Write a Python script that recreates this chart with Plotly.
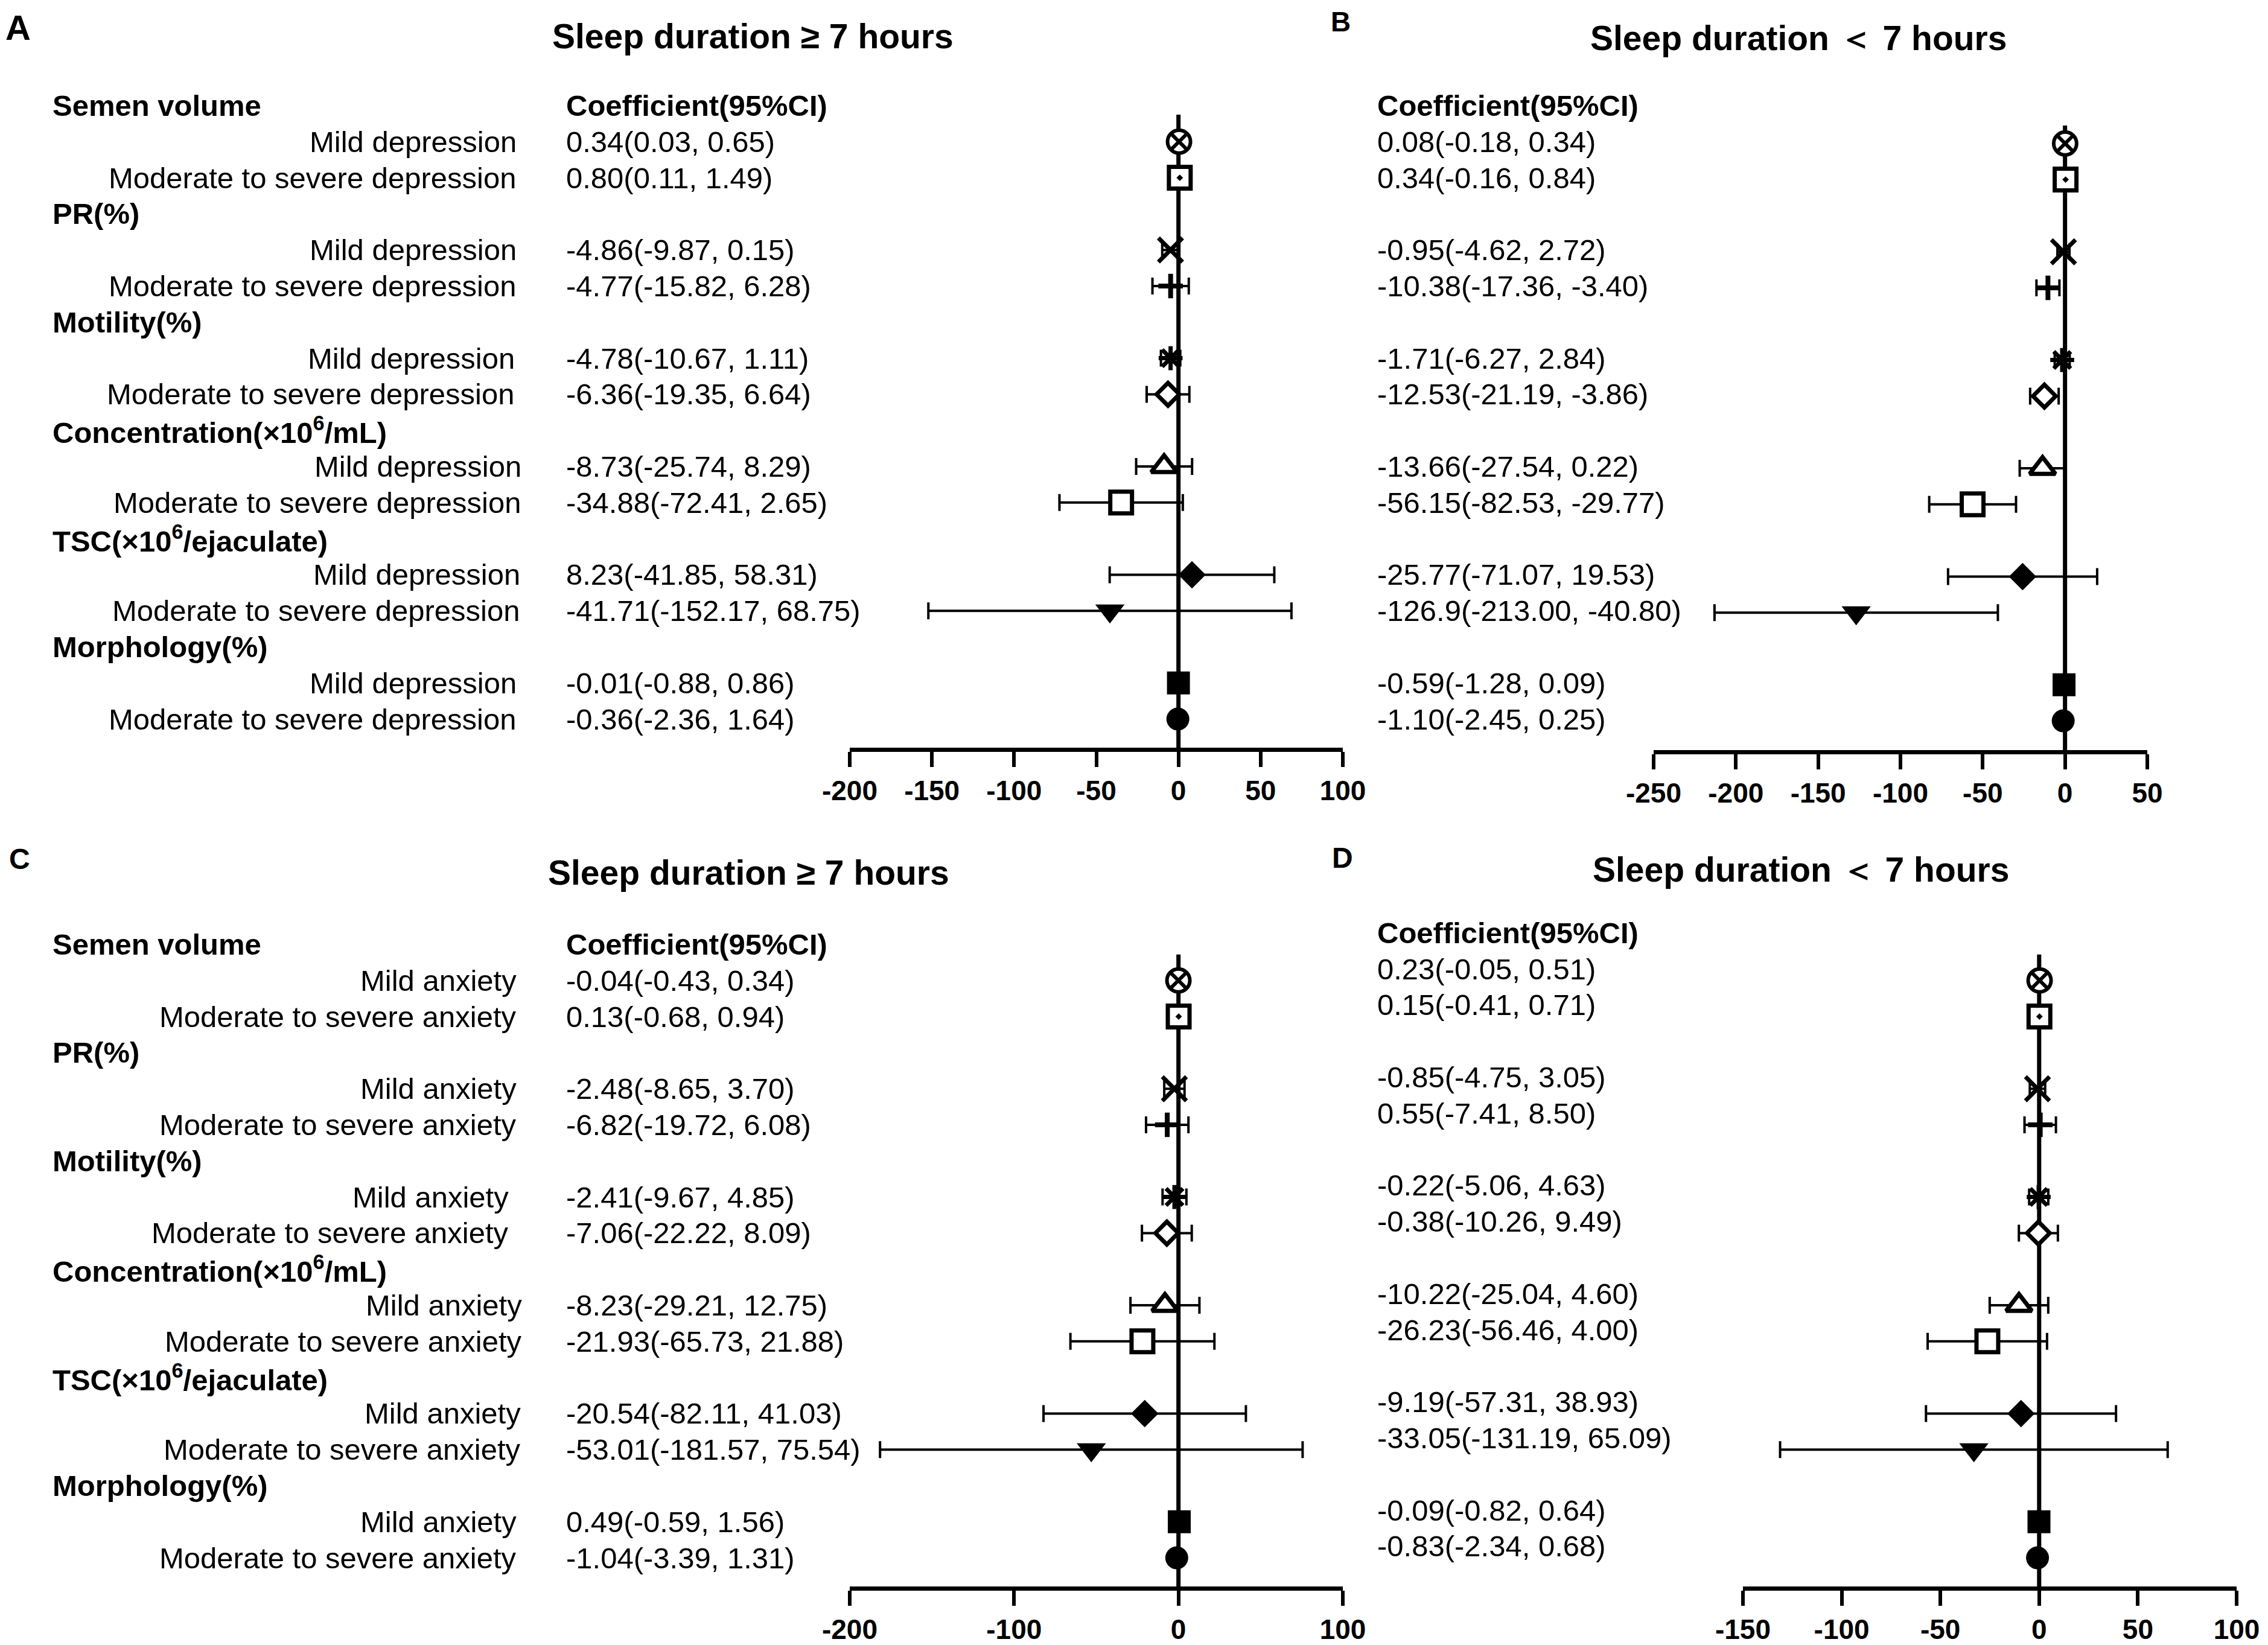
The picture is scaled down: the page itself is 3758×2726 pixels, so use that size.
import plotly.graph_objects as go

W, H = 3758, 2726
FONT = "Liberation Sans, Arial, sans-serif"

# ---- data -------------------------------------------------------------
groups = ["Semen volume", "PR(%)", "Motility(%)",
          "Concentration(×10<sup>6</sup>/mL)", "TSC(×10<sup>6</sup>/ejaculate)",
          "Morphology(%)"]
dep_levels = ["Mild depression", "Moderate to severe depression"]
anx_levels = ["Mild anxiety", "Moderate to severe anxiety"]

# A: depression, sleep >= 7 h
a_coef = [0.34, 0.80, -4.86, -4.77, -4.78, -6.36, -8.73, -34.88, 8.23, -41.71, -0.01, -0.36]
a_low = [0.03, 0.11, -9.87, -15.82, -10.67, -19.35, -25.74, -72.41, -41.85, -152.17, -0.88, -2.36]
a_high = [0.65, 1.49, 0.15, 6.28, 1.11, 6.64, 8.29, 2.65, 58.31, 68.75, 0.86, 1.64]
a_text = ["0.34(0.03, 0.65)", "0.80(0.11, 1.49)", "-4.86(-9.87, 0.15)", "-4.77(-15.82, 6.28)",
          "-4.78(-10.67, 1.11)", "-6.36(-19.35, 6.64)", "-8.73(-25.74, 8.29)",
          "-34.88(-72.41, 2.65)", "8.23(-41.85, 58.31)", "-41.71(-152.17, 68.75)",
          "-0.01(-0.88, 0.86)", "-0.36(-2.36, 1.64)"]

# B: depression, sleep < 7 h
b_coef = [0.08, 0.34, -0.95, -10.38, -1.71, -12.53, -13.66, -56.15, -25.77, -126.9, -0.59, -1.10]
b_low = [-0.18, -0.16, -4.62, -17.36, -6.27, -21.19, -27.54, -82.53, -71.07, -213.00, -1.28, -2.45]
b_high = [0.34, 0.84, 2.72, -3.40, 2.84, -3.86, 0.22, -29.77, 19.53, -40.80, 0.09, 0.25]
b_text = ["0.08(-0.18, 0.34)", "0.34(-0.16, 0.84)", "-0.95(-4.62, 2.72)", "-10.38(-17.36, -3.40)",
          "-1.71(-6.27, 2.84)", "-12.53(-21.19, -3.86)", "-13.66(-27.54, 0.22)",
          "-56.15(-82.53, -29.77)", "-25.77(-71.07, 19.53)", "-126.9(-213.00, -40.80)",
          "-0.59(-1.28, 0.09)", "-1.10(-2.45, 0.25)"]

# C: anxiety, sleep >= 7 h
c_coef = [-0.04, 0.13, -2.48, -6.82, -2.41, -7.06, -8.23, -21.93, -20.54, -53.01, 0.49, -1.04]
c_low = [-0.43, -0.68, -8.65, -19.72, -9.67, -22.22, -29.21, -65.73, -82.11, -181.57, -0.59, -3.39]
c_high = [0.34, 0.94, 3.70, 6.08, 4.85, 8.09, 12.75, 21.88, 41.03, 75.54, 1.56, 1.31]
c_text = ["-0.04(-0.43, 0.34)", "0.13(-0.68, 0.94)", "-2.48(-8.65, 3.70)", "-6.82(-19.72, 6.08)",
          "-2.41(-9.67, 4.85)", "-7.06(-22.22, 8.09)", "-8.23(-29.21, 12.75)",
          "-21.93(-65.73, 21.88)", "-20.54(-82.11, 41.03)", "-53.01(-181.57, 75.54)",
          "0.49(-0.59, 1.56)", "-1.04(-3.39, 1.31)"]

# D: anxiety, sleep < 7 h
d_coef = [0.23, 0.15, -0.85, 0.55, -0.22, -0.38, -10.22, -26.23, -9.19, -33.05, -0.09, -0.83]
d_low = [-0.05, -0.41, -4.75, -7.41, -5.06, -10.26, -25.04, -56.46, -57.31, -131.19, -0.82, -2.34]
d_high = [0.51, 0.71, 3.05, 8.50, 4.63, 9.49, 4.60, 4.00, 38.93, 65.09, 0.64, 0.68]
d_text = ["0.23(-0.05, 0.51)", "0.15(-0.41, 0.71)", "-0.85(-4.75, 3.05)", "0.55(-7.41, 8.50)",
          "-0.22(-5.06, 4.63)", "-0.38(-10.26, 9.49)", "-10.22(-25.04, 4.60)",
          "-26.23(-56.46, 4.00)", "-9.19(-57.31, 38.93)", "-33.05(-131.19, 65.09)",
          "-0.09(-0.82, 0.64)", "-0.83(-2.34, 0.68)"]

title_long = "Sleep duration ≥ 7 hours"
title_short = "Sleep duration ＜ 7 hours"

ticks_a = [-200, -150, -100, -50, 0, 50, 100]
ticks_b = [-250, -200, -150, -100, -50, 0, 50]
ticks_c = [-200, -100, 0, 100]
ticks_d = [-150, -100, -50, 0, 50, 100]

# ---- styling ----------------------------------------------------------
symbols = ["circle-x", "square-dot", "x-thin", "cross-thin", "asterisk", "diamond",
           "triangle-up", "square", "diamond", "triangle-down", "square", "circle"]
fills = ["white"] * 8 + ["black"] * 4
sizes = [38, 36, 40, 29, 33, 29, 37, 36, 35, 42, 38, 38]
lwidths = [6, 7, 7, 8, 7, 7, 7, 7, 0, 0, 0, 0]

STEP = 59.8                     # px per row
data_rows = [1, 2, 4, 5, 7, 8, 10, 11, 13, 14, 16, 17]
group_rows = [0, 3, 6, 9, 12, 15]

panels = [
    dict(tag="A", coef=a_coef, low=a_low, high=a_high, text=a_text, levels=dep_levels,
         title=title_long, xr=(-200, 100), ticks=ticks_a, xpx=(1408, 2225), head=175, axis=1239,
         line_top=0.25, text_x=936, text_dy=0, label_px=(7, 46, 58), title_px=(1247, 60),
         level_shift=[0, 0, 0, 0, -3, -3, 8, 8, 6, 6, 0, 0]),
    dict(tag="B", coef=b_coef, low=b_low, high=b_high, text=b_text, levels=None,
         title=title_short, xr=(-250, 50), ticks=ticks_b, xpx=(2740, 3558), head=178, axis=1243,
         line_top=0.5, text_x=2280, text_dy=-0.05, label_px=(2203, 36, 46), title_px=(2980, 63)),
    dict(tag="C", coef=c_coef, low=c_low, high=c_high, text=c_text, levels=anx_levels,
         title=title_long, xr=(-200, 100), ticks=ticks_c, xpx=(1408, 2225), head=1565, axis=2629,
         line_top=0.28, text_x=936, text_dy=0, label_px=(13, 1423, 48), title_px=(1240, 1446),
         level_shift=[0, 0, 0, 0, -13, -13, 9, 9, 7, 7, 0, 0]),
    dict(tag="D", coef=d_coef, low=d_low, high=d_high, text=d_text, levels=None,
         title=title_short, xr=(-150, 100), ticks=ticks_d, xpx=(2888, 3706), head=1565, axis=2629,
         line_top=0.28, text_x=2280, text_dy=-0.32, label_px=(2205, 1421, 48), title_px=(2984, 1441)),
]

fig = go.Figure()
annotations = []
layout_axes = {}

for i, p in enumerate(panels, start=1):
    sfx = str(i) if i > 1 else ""
    xa, ya = "x" + sfx, "y" + sfx
    r_top = -0.45
    r_bot = (p["axis"] - p["head"]) / STEP
    top_px = p["head"] + r_top * STEP

    layout_axes["xaxis" + sfx] = dict(
        domain=[p["xpx"][0] / W, p["xpx"][1] / W], range=list(p["xr"]), anchor=ya,
        tickmode="array", tickvals=p["ticks"], ticktext=[str(t) for t in p["ticks"]],
        showline=True, linecolor="black", linewidth=7, ticks="outside", ticklen=25,
        tickwidth=6, tickcolor="black", showgrid=False, zeroline=False, automargin=False,
        tickfont=dict(family=FONT, size=46, color="black", weight="bold"),
    )
    layout_axes["yaxis" + sfx] = dict(
        domain=[1 - p["axis"] / H, 1 - top_px / H], range=[r_bot, r_top], anchor=xa,
        visible=False, showgrid=False, zeroline=False, automargin=False,
    )

    # vertical reference line at 0
    fig.add_trace(go.Scatter(x=[0, 0], y=[p["line_top"], r_bot], mode="lines",
                             line=dict(color="black", width=7), xaxis=xa, yaxis=ya,
                             hoverinfo="skip", showlegend=False, cliponaxis=False))

    fig.add_trace(go.Scatter(
        x=p["coef"], y=data_rows, mode="markers", xaxis=xa, yaxis=ya, showlegend=False,
        cliponaxis=False,
        marker=dict(symbol=symbols, size=sizes, color=fills, opacity=1,
                    line=dict(color="black", width=lwidths)),
        error_x=dict(type="data", symmetric=False,
                     array=[h - c for h, c in zip(p["high"], p["coef"])],
                     arrayminus=[c - l for c, l in zip(p["coef"], p["low"])],
                     color="black", thickness=4, width=14),
    ))

    # panel letter and title
    annotations.append(dict(text=f"<b>{p['tag']}</b>", x=p["label_px"][0] / W,
                            y=1 - p["label_px"][1] / H, xref="paper", yref="paper",
                            xanchor="left", yanchor="middle", showarrow=False,
                            font=dict(size=p["label_px"][2])))
    annotations.append(dict(text=f"<b>{p['title']}</b>", x=p["title_px"][0] / W,
                            y=1 - p["title_px"][1] / H, xref="paper", yref="paper",
                            xanchor="center", yanchor="middle", showarrow=False,
                            font=dict(size=57)))

    # coefficient column
    annotations.append(dict(text="<b>Coefficient(95%CI)</b>", x=p["text_x"] / W,
                            y=0 + p["text_dy"], xref="paper", yref=ya, xanchor="left",
                            yanchor="middle", showarrow=False))
    for r, t in zip(data_rows, p["text"]):
        annotations.append(dict(text=t, x=p["text_x"] / W, y=r + p["text_dy"], xref="paper",
                                yref=ya, xanchor="left", yanchor="middle", showarrow=False))

    # outcome groups and exposure levels
    if p["levels"] is not None:
        for r, g in zip(group_rows, groups):
            annotations.append(dict(text=f"<b>{g}</b>", x=85 / W, y=r, xref="paper", yref=ya,
                                    xanchor="left", yanchor="middle", showarrow=False))
        for k, r in enumerate(data_rows):
            annotations.append(dict(text=p["levels"][k % 2],
                                    x=(858 + p["level_shift"][k]) / W, y=r,
                                    xref="paper", yref=ya, xanchor="right",
                                    yanchor="middle", showarrow=False))

fig.update_layout(
    width=W, height=H, autosize=False,
    margin=dict(l=0, r=0, t=0, b=0, pad=0, autoexpand=False),
    paper_bgcolor="white", plot_bgcolor="white",
    font=dict(family=FONT, size=49, color="black"),
    annotations=annotations, showlegend=False, **layout_axes,
)

fig.write_html("out.html", config={"displayModeBar": False},
               post_script="document.body.style.margin='0';")
